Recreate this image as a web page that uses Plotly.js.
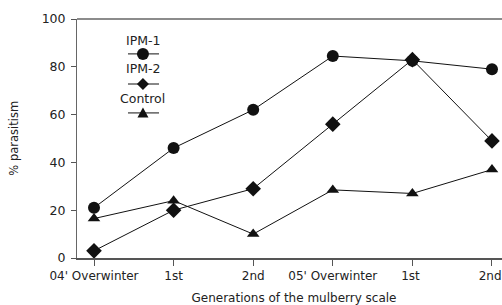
<!DOCTYPE html>
<html><head><meta charset="utf-8">
<script src="https://cdn.plot.ly/plotly-3.0.1.min.js"></script>
<style>html,body{margin:0;padding:0;overflow:hidden;background:#fff}#chart{width:511px;height:305px}</style>
</head><body><div id="chart"></div>
<script>
const categories = ["04' Overwinter", "1st", "2nd", "05' Overwinter", "1st ", "2nd "];
const ipm1 = [21, 46, 62, 84.5, 82.5, 79];
const ipm2 = [3, 20, 29, 56, 83, 49];
const control = [16.5, 24, 10, 28.5, 27, 37];
const yTicks = [0, 20, 40, 60, 80, 100];
const yTitle = '% parasitism';
const xTitle = 'Generations of the mulberry scale';

const FONT = "DejaVu Sans, sans-serif";
const idx = categories.map((c, i) => i);
function tr(name, y, symbol, size) {
  return {x: idx, y: y, name: name, type: 'scatter', mode: 'lines+markers',
    line: {color: '#111', width: 1}, marker: {symbol: symbol, size: size, color: '#111'},
    cliponaxis: false, showlegend: false};
}
const data = [
  tr('IPM-1', ipm1, 'circle', 12),
  tr('IPM-2', ipm2, 'diamond', 12),
  tr('Control', control, 'triangle-up', 11)
];

// legend drawn as text above key (layout elements)
const legendItems = [
  {label: 'IPM-1', ty: 0.912, ky: 0.854, kind: 'circle'},
  {label: 'IPM-2', ty: 0.791, ky: 0.728, kind: 'path', path: 'M0,6 L6,0 L0,-6 L-6,0 Z'},
  {label: 'Control', ty: 0.669, ky: 0.607, kind: 'path', path: 'M-5.5,-4.5 L5.5,-4.5 L0,5.5 Z'}
];
const legX = 0.152, legX0 = 0.1175, legX1 = 0.189;
const shapes = [
  {type: 'line', xref: 'paper', yref: 'paper', x0: 0, x1: 1, y0: 1, y1: 1, line: {color: '#666', width: 1.5}}
];
const annotations = [
  {xref: 'paper', yref: 'paper', x: -0.147, y: 0.5, text: yTitle, textangle: -90, showarrow: false,
   font: {family: FONT, size: 11.5, color: '#222'}, xanchor: 'center', yanchor: 'middle'}
];
legendItems.forEach(it => {
  annotations.push({xref: 'paper', yref: 'paper', x: legX, y: it.ty, text: it.label, showarrow: false,
    font: {family: FONT, size: 12.5, color: '#222'}, xanchor: 'center', yanchor: 'middle'});
  shapes.push({type: 'line', xref: 'paper', yref: 'paper', x0: legX0, x1: legX1, y0: it.ky, y1: it.ky,
    line: {color: '#111', width: 1}});
  if (it.kind === 'circle') {
    shapes.push({type: 'circle', xref: 'paper', yref: 'paper', xsizemode: 'pixel', ysizemode: 'pixel',
      xanchor: legX, yanchor: it.ky, x0: -6, x1: 6, y0: -6, y1: 6, fillcolor: '#111', line: {color: '#111', width: 0}});
  } else {
    shapes.push({type: 'path', xref: 'paper', yref: 'paper', xsizemode: 'pixel', ysizemode: 'pixel',
      xanchor: legX, yanchor: it.ky, path: it.path, fillcolor: '#111', line: {color: '#111', width: 0}});
  }
});

const layout = {
  width: 511, height: 305,
  margin: {l: 77, r: 0, t: 19, b: 47},
  paper_bgcolor: '#fff', plot_bgcolor: '#fff',
  font: {family: FONT, size: 12, color: '#222'},
  xaxis: {
    range: [-0.2136, 5.239], tickvals: idx, ticktext: categories,
    showgrid: false, zeroline: false, showline: true, linecolor: '#555', linewidth: 2,
    ticks: 'outside', ticklen: 6, tickcolor: '#555', tickwidth: 1,
    tickfont: {family: FONT, size: 12, color: '#222'},
    title: {text: xTitle, font: {family: FONT, size: 12, color: '#222'}, standoff: 12}
  },
  yaxis: {
    range: [0, 100], tickvals: yTicks, showgrid: false, zeroline: false,
    showline: true, linecolor: '#666', linewidth: 1,
    ticks: 'outside', ticklen: 5, tickcolor: '#555', ticklabelstandoff: 3,
    tickfont: {family: FONT, size: 12.5, color: '#222'}
  },
  shapes: shapes, annotations: annotations, showlegend: false
};
Plotly.newPlot('chart', data, layout, {staticPlot: true, displayModeBar: false});
</script></body></html>
